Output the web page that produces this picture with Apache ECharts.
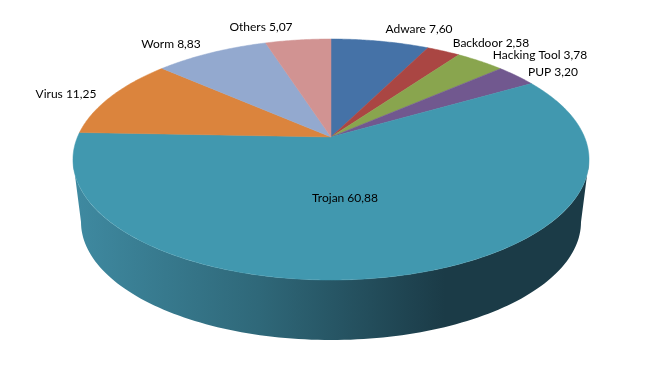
<!DOCTYPE html>
<html>
<head>
<meta charset="utf-8">
<style>
  html, body { margin: 0; padding: 0; background: #fff; }
  #main { width: 661px; height: 375px; }
</style>
<script src="https://cdn.jsdelivr.net/npm/echarts@6/dist/echarts.min.js"></script>
</head>
<body>
<div id="main"></div>
<script>
var categories = ['Adware', 'Backdoor', 'Hacking Tool', 'PUP', 'Trojan', 'Virus', 'Worm', 'Others'];
var shares = [7.60, 2.58, 3.78, 3.20, 60.88, 11.25, 8.83, 5.07];
var shareLabels = ['7,60', '2,58', '3,78', '3,20', '60,88', '11,25', '8,83', '5,07'];

var colors = ['#4572A7', '#AA4643', '#89A54E', '#71588F', '#4198AF', '#DB843D', '#93A9CF', '#D19392'];
// label centres in pixels
var labelPos = [[419, 29], [491, 43], [540, 55], [553, 72], [345, 198], [66, 94], [171, 44], [261, 27]];

// the tilted disc: apex, horizontal radius, height above and below the apex, perspective
var apexX = 331, apexY = 137;
var radiusX = 253.5, upper = 98, lower = 143;
var persp = (lower - upper) / (lower + upper);
var scaleY = upper * (1 + persp);
var total = shares.reduce(function (a, b) { return a + b; }, 0);

// angle in radians, clockwise from 12 o'clock, to a point on the tilted rim
function rim(angle) {
    var u = Math.sin(angle), v = Math.cos(angle);
    var d = 1 + persp * v;
    return [apexX + radiusX * u / d, apexY - scaleY * v / d];
}

function halfEllipse(cx, cy, rx, ry, reverse) {
    var pts = [];
    for (var i = 0; i <= 120; i++) {
        var t = Math.PI * (reverse ? 120 - i : i) / 120;
        pts.push([cx - rx * Math.cos(t), cy + ry * Math.sin(t)]);
    }
    return pts;
}

function renderWall() {
    // front side of the disc, below the top face
    var pts = halfEllipse(331, 160, 258, 120, false).concat(halfEllipse(331, 222, 250, 118, true));
    return {
        type: 'polygon',
        shape: { points: pts },
        style: {
            fill: new echarts.graphic.LinearGradient(0, 0, 1, 0, [
                { offset: 0, color: '#3f8aa1' },
                { offset: 0.36, color: '#2f6879' },
                { offset: 0.72, color: '#1b3b47' },
                { offset: 1, color: '#1b3b47' }
            ], false)
        }
    };
}

function renderSlice(params, api) {
    var i = params.dataIndex;
    var before = 0;
    for (var j = 0; j < i; j++) before += shares[j];
    var a0 = before / total * Math.PI * 2;
    var a1 = (before + api.value(0)) / total * Math.PI * 2;
    var steps = Math.max(4, Math.ceil((a1 - a0) / 0.01));
    var pts = [[apexX, apexY]];
    for (var s = 0; s <= steps; s++) {
        pts.push(rim(a0 + (a1 - a0) * s / steps));
    }
    return {
        type: 'polygon',
        shape: { points: pts },
        style: { fill: colors[i], stroke: colors[i], lineWidth: 0.5 }
    };
}

function renderLabel(params, api) {
    var i = params.dataIndex;
    return {
        type: 'text',
        style: {
            x: labelPos[i][0],
            y: labelPos[i][1],
            text: categories[i] + ' ' + shareLabels[i],
            font: '12px Lato',
            fill: '#000',
            align: 'center',
            verticalAlign: 'middle'
        }
    };
}

var sliceData = shares.map(function (v, i) {
    return { name: categories[i], value: v };
});

var myChart = echarts.init(document.getElementById('main'));
myChart.setOption({
    animation: false,
    backgroundColor: '#fff',
    series: [
        { type: 'custom', coordinateSystem: 'none', silent: true, z: 1, data: [0], renderItem: renderWall },
        { type: 'custom', coordinateSystem: 'none', z: 2, data: sliceData, renderItem: renderSlice },
        { type: 'custom', coordinateSystem: 'none', silent: true, z: 3, data: sliceData, renderItem: renderLabel }
    ]
});
</script>
</body>
</html>
